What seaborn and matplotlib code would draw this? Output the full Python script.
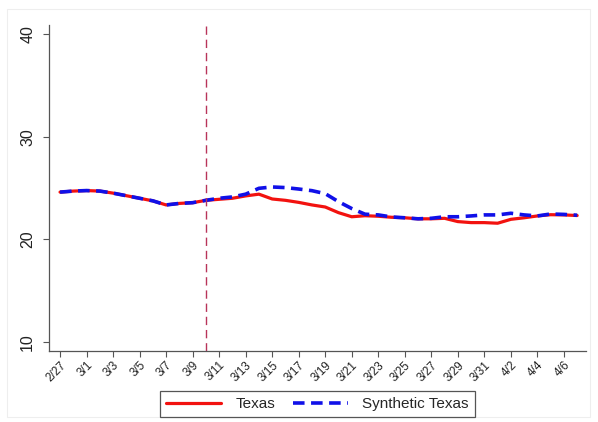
import matplotlib
matplotlib.use("Agg")
import matplotlib.pyplot as plt
import matplotlib.patches as mpatches
import numpy as np
import pandas as pd
import seaborn as sns

# Daily dates, 2/27 through 4/7 (2021)
dates = pd.date_range("2021-02-27", "2021-04-07", freq="D")
date_labels = [f"{d.month}/{d.day}" for d in dates]

texas = [24.6, 24.7, 24.75, 24.7, 24.5, 24.25, 24.0, 23.75, 23.35, 23.5,
         23.57, 23.8, 23.9, 24.0, 24.23, 24.4, 23.93, 23.8, 23.6, 23.35,
         23.15, 22.6, 22.2, 22.3, 22.25, 22.15, 22.1, 22.0, 22.0, 22.05,
         21.73, 21.63, 21.63, 21.57, 21.95, 22.1, 22.28, 22.4, 22.38, 22.32]
synthetic = [24.6, 24.7, 24.75, 24.7, 24.5, 24.25, 24.0, 23.75, 23.35, 23.5,
             23.57, 23.8, 24.0, 24.13, 24.4, 24.97, 25.1, 25.04, 24.9, 24.74,
             24.45, 23.67, 23.0, 22.45, 22.38, 22.18, 22.1, 22.0, 22.05, 22.2,
             22.2, 22.28, 22.38, 22.38, 22.54, 22.38, 22.28, 22.47, 22.43, 22.35]

series_names = ["Texas", "Synthetic Texas"]
yticks = [10, 20, 30, 40]
treatment_label = "3/10"

day_index = np.arange(len(dates))
df = pd.DataFrame({
    "day": np.concatenate([day_index, day_index]),
    "value": texas + synthetic,
    "series": [series_names[0]] * len(dates) + [series_names[1]] * len(dates),
})

sns.set_theme(style="ticks")
plt.rcParams["font.family"] = ["Liberation Sans", "DejaVu Sans"]

fig = plt.figure(figsize=(5.98, 4.22), dpi=100)
ax = fig.add_axes([0.082, 0.168, 0.898, 0.773])

red = "#f2120f"
blue = "#1010e8"

sns.lineplot(data=df[df.series == series_names[0]], x="day", y="value",
             color=red, linewidth=2.3, ax=ax, legend=False)
sns.lineplot(data=df[df.series == series_names[1]], x="day", y="value",
             color=blue, linewidth=2.6, ax=ax, legend=False)
ax.lines[-1].set_dashes((3.2, 1.8))

# Vertical marker for the policy date
ax.axvline(date_labels.index(treatment_label), color="#b8345a",
           linewidth=1.0, linestyle=(0, (6, 3.5)))

ax.set_xlim(-0.83, 39.67)
ax.set_ylim(9.12, 40.88)
ax.set_yticks(yticks)
ax.set_yticklabels([str(t) for t in yticks], rotation=90, va="center",
                   fontsize=11.5, color="#222222")
xt = day_index[::2][:20]
ax.set_xticks(xt)
ax.set_xticklabels([date_labels[i] for i in xt], rotation=45, ha="right",
                   rotation_mode="anchor", fontsize=8.5, color="#222222")
ax.set_xlabel("")
ax.set_ylabel("")
ax.tick_params(axis="both", direction="out", length=4, width=0.8,
               color="#555555")
ax.tick_params(axis="y", pad=6)
ax.tick_params(axis="x", pad=2)
for side in ("top", "right"):
    ax.spines[side].set_visible(False)
for side in ("left", "bottom"):
    ax.spines[side].set_color("#555555")
    ax.spines[side].set_linewidth(0.9)

handles = [
    plt.Line2D([], [], color=red, linewidth=2.3),
    plt.Line2D([], [], color=blue, linewidth=2.6, dashes=(3.2, 1.8)),
]
leg = fig.legend(handles, series_names, loc="center",
                 bbox_to_anchor=(0.531, 0.043), ncol=2, fontsize=11,
                 frameon=True, fancybox=False, edgecolor="#555555",
                 framealpha=1, handlelength=3.6, columnspacing=1.2,
                 handletextpad=0.9, borderpad=0.4)
leg.get_frame().set_linewidth(0.9)

# Faint outline around the graph region
fig.patches.append(mpatches.Rectangle((0.012, 0.012), 0.975, 0.966,
                                      transform=fig.transFigure,
                                      fill=False, edgecolor="#eeeeee",
                                      linewidth=0.8))

fig.savefig("out.png", dpi=100, facecolor="white")
